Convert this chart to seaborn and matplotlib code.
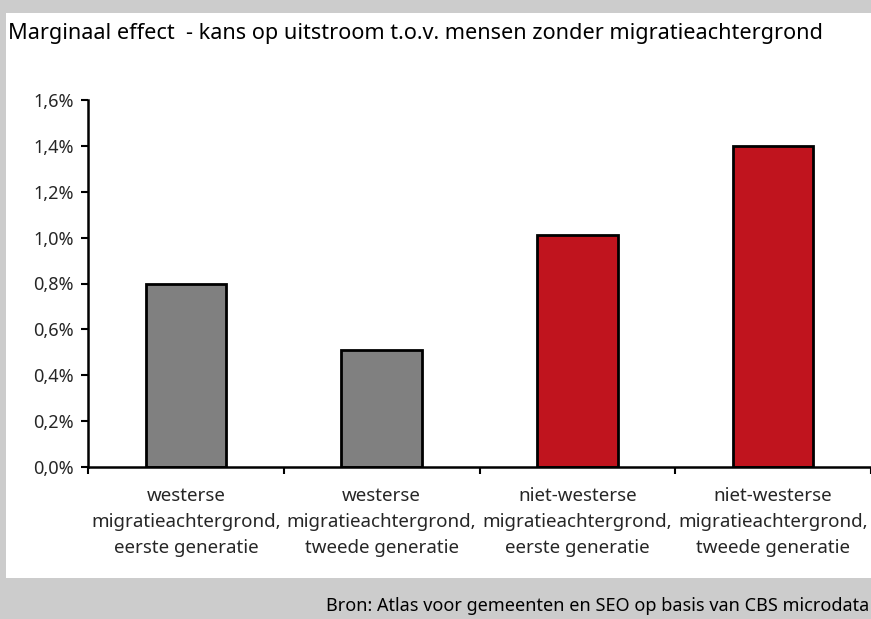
import matplotlib
matplotlib.use("Agg")
import matplotlib.pyplot as plt
import matplotlib.patches as mpatches
from matplotlib.ticker import FixedLocator, FuncFormatter
import seaborn as sns
import pandas as pd

categories = [
    "westerse\nmigratieachtergrond,\neerste generatie",
    "westerse\nmigratieachtergrond,\ntweede generatie",
    "niet-westerse\nmigratieachtergrond,\neerste generatie",
    "niet-westerse\nmigratieachtergrond,\ntweede generatie",
]
values = [0.80, 0.51, 1.01, 1.40]
colors = ["#808080", "#808080", "#c0141e", "#c0141e"]
yticks = [0.0, 0.2, 0.4, 0.6, 0.8, 1.0, 1.2, 1.4, 1.6]
title = "Marginaal effect  - kans op uitstroom t.o.v. mensen zonder migratieachtergrond"
source = "Bron: Atlas voor gemeenten en SEO op basis van CBS microdata"

sns.set_theme(style="white")
plt.rcParams["font.family"] = ["Noto Sans", "DejaVu Sans"]

W, H = 871, 619
fig = plt.figure(figsize=(W / 100, H / 100), dpi=100)
fig.patch.set_facecolor("#cccccc")
# white panel
fig.patches.append(mpatches.Rectangle((6 / W, 1 - 578 / H), 1, (578 - 13) / H,
                                      transform=fig.transFigure, facecolor="white",
                                      edgecolor="none", zorder=-10))

ax = fig.add_axes([88 / W, 1 - 467 / H, 1 - 88 / W, (467 - 100) / H])
ax.set_facecolor("none")
df = pd.DataFrame({"cat": categories, "val": values})
sns.barplot(data=df, x="cat", y="val", hue="cat", palette=colors, legend=False,
            width=0.41, edgecolor="black", linewidth=2, ax=ax, saturation=1)

ax.set_xlim(-0.5, 3.5)
ax.set_ylim(0, 1.6)
ax.set_yticks(yticks)
ax.yaxis.set_major_formatter(FuncFormatter(lambda v, p: f"{v:.1f}%".replace(".", ",")))
ax.xaxis.set_major_locator(FixedLocator([-0.5, 0.5, 1.5, 2.5, 3.5]))
ax.xaxis.set_major_formatter(FuncFormatter(lambda v, p: ""))
ax.xaxis.set_minor_locator(FixedLocator([0, 1, 2, 3]))
ax.set_xticklabels(categories, minor=True)
ax.tick_params(axis="x", which="major", direction="out", length=5, width=1.5, color="black", bottom=True)
ax.tick_params(axis="x", which="minor", length=0, pad=14.5, labelsize=13.5)
ax.tick_params(axis="y", direction="out", length=5, width=1.5, color="black", left=True, labelsize=13, pad=5.5)
for lab in ax.get_xticklabels(minor=True):
    lab.set_linespacing(1.55)
ax.set_xlabel("")
ax.set_ylabel("")
for s in ["top", "right"]:
    ax.spines[s].set_visible(False)
for s in ["left", "bottom"]:
    ax.spines[s].set_color("black")
    ax.spines[s].set_linewidth(1.8)

fig.text(8 / W, 1 - 34 / H, title, fontsize=15.6, va="center", ha="left", color="black")
fig.text(869 / W, 1 - 606 / H, source, fontsize=13, va="center", ha="right", color="black")

fig.savefig("out.png", dpi=100, facecolor=fig.get_facecolor())
